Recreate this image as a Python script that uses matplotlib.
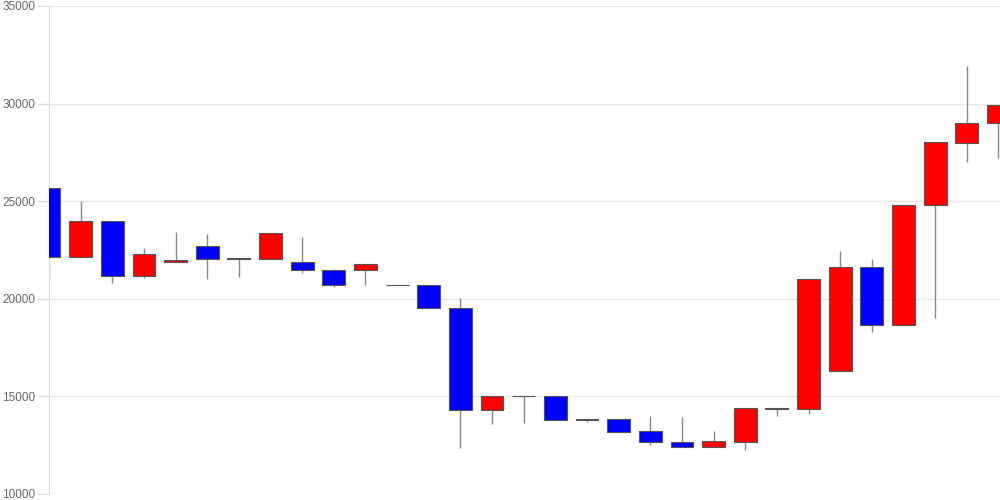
import numpy as np
import matplotlib.pyplot as plt

plt.rcParams['font.family'] = ['Liberation Sans', 'DejaVu Sans']

# daily OHLC
opens  = [25700, 22150, 24000, 21150, 21900, 22720, 22020, 22055, 21870, 21460,
          21460, 20720, 20710, 19510, 14300, 15000, 15000, 13840, 13820, 13210,
          12650, 12390, 12680, 14410, 14340, 16300, 21630, 18640, 24820, 28000,
          28990]
closes = [22150, 24000, 21150, 22310, 21990, 22020, 22075, 23355, 21460, 20690,
          21780, 20700, 19510, 14300, 15000, 15010, 13800, 13800, 13190, 12650,
          12390, 12715, 14420, 14340, 21000, 21630, 18640, 24820, 28020, 29000,
          29930]
highs  = [25700, 25000, 24000, 22600, 23440, 23320, 22075, 23355, 23170, 21540,
          21780, 20720, 20710, 20020, 15000, 15010, 15000, 13840, 13820, 14000,
          13960, 13230, 14420, 14410, 21000, 22460, 22020, 24820, 28020, 31910,
          29930]
lows   = [21050, 22150, 20830, 21050, 21900, 21000, 21120, 22055, 21340, 20590,
          20710, 20700, 19510, 12370, 13600, 13650, 13800, 13700, 13190, 12510,
          12390, 12390, 12250, 14010, 14100, 16300, 18310, 18640, 19000, 26990,
          27200]

x = np.arange(len(opens))
opens = np.array(opens)
closes = np.array(closes)
up = closes >= opens
colors = np.where(up, '#ff0000', '#0000ff')

fig = plt.figure(figsize=(10, 5), dpi=100)
ax = fig.add_axes([0.049, 0.012, 0.951, 0.976])

# wicks
ax.vlines(x, lows, highs, color='#888888', linewidth=1, zorder=2)
# bodies
bottoms = np.minimum(opens, closes)
heights = np.abs(closes - opens)
ax.bar(x, heights, bottom=bottoms, width=0.72, color=colors,
       edgecolor='#555555', linewidth=0.8, zorder=3)

ax.set_xlim(0, 30.05)
ax.set_ylim(10000, 35000)
ax.set_yticks(np.arange(10000, 35001, 5000))
ax.set_xticks([])
ax.grid(axis='y', color='#e6e6e6', linewidth=1, zorder=0)
ax.set_axisbelow(True)

for s in ['top', 'right', 'bottom']:
    ax.spines[s].set_visible(False)
ax.spines['left'].set_color('#dddddd')
ax.tick_params(axis='y', colors='#dddddd', labelcolor='#666666',
               labelsize=8.5, length=9, width=1, pad=1)

plt.savefig('out.png', dpi=100)
